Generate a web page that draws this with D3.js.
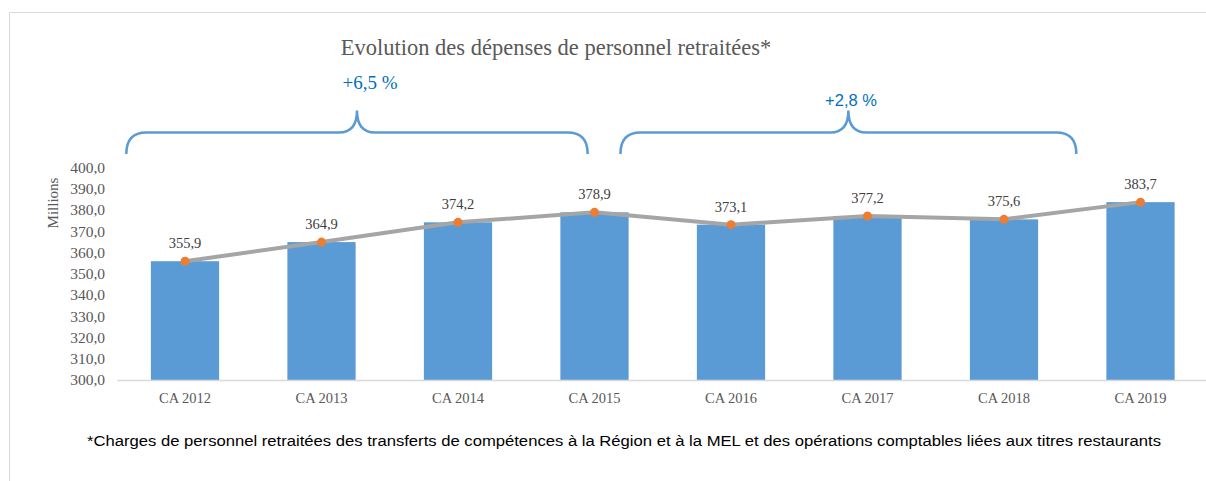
<!DOCTYPE html>
<html>
<head>
<meta charset="utf-8">
<script src="https://cdn.jsdelivr.net/npm/d3@7"></script>
<style>
  body { margin: 0; background: #fff; }
  svg { display: block; }
</style>
</head>
<body>
<div id="chart"></div>
<script>
var categories = ["CA 2012", "CA 2013", "CA 2014", "CA 2015", "CA 2016", "CA 2017", "CA 2018", "CA 2019"];
var values = [355.9, 364.9, 374.2, 378.9, 373.1, 377.2, 375.6, 383.7];
var yTicks = [300, 310, 320, 330, 340, 350, 360, 370, 380, 390, 400];
var braceLabels = ["+6,5 %", "+2,8 %"];
var braceRanges = [["CA 2012", "CA 2015"], ["CA 2016", "CA 2019"]];
var title = "Evolution des dépenses de personnel retraitées*";
var footnote = "*Charges de personnel retraitées des transferts de compétences à la Région et à la MEL et des opérations comptables liées aux titres restaurants";

var W = 1206, H = 481;
var serif = "'Liberation Serif', 'Times New Roman', serif";
var sans = "'Liberation Sans', Arial, sans-serif";

var svg = d3.select("#chart").append("svg")
  .attr("width", W)
  .attr("height", H);

// chart frame (only top and left edges visible)
svg.append("path")
  .attr("d", "M9.5," + H + "V12.5H" + W)
  .attr("fill", "none")
  .attr("stroke", "#d9d9d9")
  .attr("stroke-width", 1);

var x = d3.scaleBand()
  .domain(categories)
  .range([116.75, 1208.75])
  .paddingInner(0.5)
  .paddingOuter(0.25);

var y = d3.scaleLinear()
  .domain([300, 400])
  .range([380, 167.5]);

var cx = function(c) { return x(c) + x.bandwidth() / 2; };

// title
svg.append("text")
  .attr("x", 556)
  .attr("y", 55)
  .attr("text-anchor", "middle")
  .style("font-family", serif)
  .style("font-size", "22.5px")
  .style("fill", "#595959")
  .text(title);

// y axis labels
var yAxis = d3.axisLeft(y)
  .tickValues(yTicks)
  .tickSize(0)
  .tickPadding(0)
  .tickFormat(function(d) { return d3.format(".1f")(d).replace(".", ","); });

var gy = svg.append("g")
  .attr("transform", "translate(105,0)")
  .call(yAxis);
gy.select(".domain").remove();
gy.selectAll("text")
  .style("font-family", serif)
  .style("font-size", "15.5px")
  .style("fill", "#595959");

svg.append("text")
  .attr("transform", "translate(58,203) rotate(-90)")
  .attr("text-anchor", "middle")
  .style("font-family", serif)
  .style("font-size", "15px")
  .style("fill", "#595959")
  .text("Millions");

// bars
svg.selectAll(".bar")
  .data(values)
  .enter().append("rect")
  .attr("class", "bar")
  .attr("x", function(d, i) { return x(categories[i]); })
  .attr("y", function(d) { return y(d); })
  .attr("width", x.bandwidth())
  .attr("height", function(d) { return y(300) - y(d); })
  .style("fill", "#5b9bd5");

// x axis
var xAxis = d3.axisBottom(x).tickSize(0).tickPadding(13);
var gx = svg.append("g")
  .attr("transform", "translate(0,380)")
  .call(xAxis);
gx.select(".domain")
  .attr("stroke", "#d9d9d9")
  .attr("stroke-width", 1.5);
gx.selectAll("text")
  .style("font-family", serif)
  .style("font-size", "14.5px")
  .style("fill", "#595959");

// line + markers
var line = d3.line()
  .x(function(d, i) { return cx(categories[i]); })
  .y(function(d) { return y(d); });

svg.append("path")
  .datum(values)
  .attr("d", line)
  .attr("fill", "none")
  .attr("stroke", "#a5a5a5")
  .attr("stroke-width", 4)
  .attr("stroke-linejoin", "round")
  .attr("stroke-linecap", "round");

svg.selectAll(".dot")
  .data(values)
  .enter().append("circle")
  .attr("class", "dot")
  .attr("cx", function(d, i) { return cx(categories[i]); })
  .attr("cy", function(d) { return y(d); })
  .attr("r", 4.5)
  .style("fill", "#ed7d31");

svg.selectAll(".val")
  .data(values)
  .enter().append("text")
  .attr("class", "val")
  .attr("x", function(d, i) { return cx(categories[i]); })
  .attr("y", function(d) { return y(d) - 13; })
  .attr("text-anchor", "middle")
  .style("font-family", serif)
  .style("font-size", "14.5px")
  .style("fill", "#404040")
  .text(function(d) { return d3.format(".1f")(d).replace(".", ","); });

// braces over the two periods
var step = x.step();
var braceEnds = [[-0.43, -0.05], [-0.81, -0.47]];
var yEnd = 154, yMid = 132.5, yTip = 110.5;

braceRanges.forEach(function(r, i) {
  var left = cx(r[0]) + braceEnds[i][0] * step,
      right = cx(r[1]) + braceEnds[i][1] * step,
      tip = (left + right) / 2;
  var p = "M" + left + "," + yEnd +
    "Q" + left + "," + yMid + " " + (left + 20) + "," + yMid +
    "L" + (tip - 18) + "," + yMid +
    "Q" + tip + "," + yMid + " " + tip + "," + yTip +
    "Q" + tip + "," + yMid + " " + (tip + 18) + "," + yMid +
    "L" + (right - 20) + "," + yMid +
    "Q" + right + "," + yMid + " " + right + "," + yEnd;
  svg.append("path")
    .attr("d", p)
    .attr("fill", "none")
    .attr("stroke", "#5b9bd5")
    .attr("stroke-width", 2.5);
});

svg.append("text")
  .attr("x", 370)
  .attr("y", 89)
  .attr("text-anchor", "middle")
  .style("font-family", serif)
  .style("font-size", "19px")
  .style("fill", "#0070c0")
  .text(braceLabels[0]);

svg.append("text")
  .attr("x", 851)
  .attr("y", 106)
  .attr("text-anchor", "middle")
  .style("font-family", sans)
  .style("font-size", "16.5px")
  .style("fill", "#0070c0")
  .text(braceLabels[1]);

// footnote
svg.append("text")
  .attr("x", 87)
  .attr("y", 446)
  .attr("textLength", 1074)
  .attr("lengthAdjust", "spacingAndGlyphs")
  .style("font-family", sans)
  .style("font-size", "15.5px")
  .style("fill", "#000")
  .text(footnote);
</script>
</body>
</html>
